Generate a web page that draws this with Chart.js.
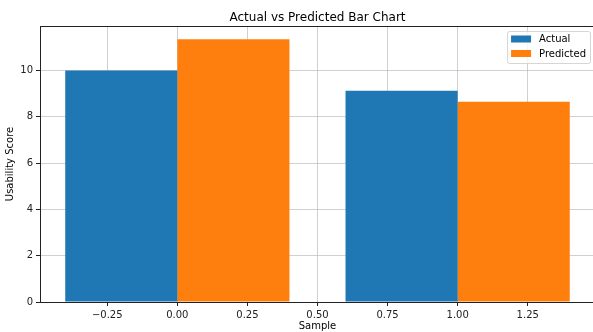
<!DOCTYPE html>
<html>
<head>
<meta charset="utf-8">
<script src="https://cdn.jsdelivr.net/npm/chart.js@4/dist/chart.umd.min.js"></script>
<style>
  html, body { margin: 0; padding: 0; background: #fff; overflow: hidden; }
  #wrap { width: 595px; height: 332px; }
</style>
</head>
<body>
<div id="wrap"><canvas id="barChart"></canvas></div>
<script>
// ---- data ----
const samples = [0, 1];
const actual = [10.0, 9.12];
const predicted = [11.35, 8.65];
const seriesNames = ["Actual", "Predicted"];
const xTicks = [-0.25, 0, 0.25, 0.5, 0.75, 1.0, 1.25];
const yTicks = [0, 2, 4, 6, 8, 10];

const BAR_W = 0.4;
const X_STEP = 0.25;
const FONT = "DejaVu Sans";
const COLORS = ["#1f77b4", "#ff7f0e"];

// matplotlib style 5% margins
const xLo = samples[0] - BAR_W, xHi = samples[samples.length - 1] + BAR_W;
const xPad = (xHi - xLo) * 0.05;
const yMax = Math.max(...actual, ...predicted) * 1.05;

const minus = (s) => s.replace("-", "\u2212");

// title, frame and legend drawn by hand
const decorPlugin = {
  id: "decor",
  afterDraw(chart) {
    const { ctx, chartArea: a } = chart;
    ctx.save();

    // title
    ctx.fillStyle = "#000";
    ctx.font = "12px '" + FONT + "'";
    ctx.textAlign = "center";
    ctx.textBaseline = "alphabetic";
    ctx.fillText("Actual vs Predicted Bar Chart", (a.left + a.right) / 2, 21);

    // frame
    ctx.strokeStyle = "#222";
    ctx.lineWidth = 1;
    ctx.strokeRect(Math.round(a.left) + 0.5, Math.round(a.top) + 0.5,
      Math.round(a.right - a.left), Math.round(a.bottom - a.top));

    // legend
    ctx.font = "10px '" + FONT + "'";
    const tw = Math.max(...seriesNames.map(n => ctx.measureText(n).width));
    const w = 4 + 20 + 8 + tw + 4;
    const h = 32;
    const x0 = a.right - 5 - w, y0 = a.top + 5;
    ctx.beginPath();
    ctx.roundRect(x0 + 0.5, y0 + 0.5, w, h, 2);
    ctx.fillStyle = "rgba(255,255,255,0.8)";
    ctx.fill();
    ctx.strokeStyle = "rgba(204,204,204,0.8)";
    ctx.stroke();

    ctx.textAlign = "left";
    ctx.textBaseline = "middle";
    seriesNames.forEach((n, i) => {
      const cy = y0 + 8 + i * 14.5;
      ctx.fillStyle = COLORS[i];
      ctx.fillRect(x0 + 4, cy - 3.5, 20, 7);
      ctx.fillStyle = "#000";
      ctx.fillText(n, x0 + 32, cy + 0.5);
    });

    ctx.restore();
  }
};

const ctx = document.getElementById("barChart").getContext("2d");

new Chart(ctx, {
  type: "bar",
  data: {
    datasets: [
      {
        label: seriesNames[0],
        data: samples.map((s, i) => ({ x: s - BAR_W / 2, y: actual[i] })),
        backgroundColor: COLORS[0]
      },
      {
        label: seriesNames[1],
        data: samples.map((s, i) => ({ x: s + BAR_W / 2, y: predicted[i] })),
        backgroundColor: COLORS[1]
      }
    ]
  },
  options: {
    responsive: true,
    maintainAspectRatio: false,
    animation: false,
    devicePixelRatio: 1,
    grouped: false,
    categoryPercentage: 1,
    // smallest spacing chart.js finds is the tick step, scale up to BAR_W
    barPercentage: BAR_W / X_STEP,
    borderWidth: 0,
    layout: { padding: { top: 26, left: 0, right: 0, bottom: 0 } },
    plugins: {
      legend: { display: false },
      tooltip: { enabled: false },
      title: { display: false }
    },
    scales: {
      x: {
        type: "linear",
        offset: false,
        min: xLo - xPad,
        max: xHi + xPad,
        z: 1,
        border: { display: false },
        grid: {
          offset: false,
          color: "rgba(176,176,176,0.6)",
          lineWidth: 1,
          tickColor: "#222",
          tickLength: 4
        },
        afterBuildTicks: (scale) => { scale.ticks = xTicks.map(v => ({ value: v })); },
        afterFit: (scale) => { scale.height = 30; },
        ticks: {
          color: "#222",
          padding: 3,
          maxRotation: 0,
          font: { family: FONT, size: 10 },
          callback: (v) => minus(Number(v).toFixed(2))
        },
        title: {
          display: true,
          text: "Sample",
          color: "#000",
          padding: { top: 0, bottom: 0 },
          font: { family: FONT, size: 10 }
        }
      },
      y: {
        min: 0,
        max: yMax,
        z: 1,
        border: { display: false },
        grid: {
          color: "rgba(176,176,176,0.6)",
          lineWidth: 1,
          tickColor: "#222",
          tickLength: 4
        },
        afterBuildTicks: (scale) => { scale.ticks = yTicks.map(v => ({ value: v })); },
        afterFit: (scale) => { scale.width = 40; },
        ticks: {
          color: "#222",
          padding: 3,
          font: { family: FONT, size: 10 },
          callback: (v) => String(v)
        },
        title: {
          display: true,
          text: "Usability Score",
          color: "#000",
          padding: { top: 4, bottom: 0 },
          font: { family: FONT, size: 10 }
        }
      }
    }
  },
  plugins: [decorPlugin]
});
</script>
</body>
</html>
